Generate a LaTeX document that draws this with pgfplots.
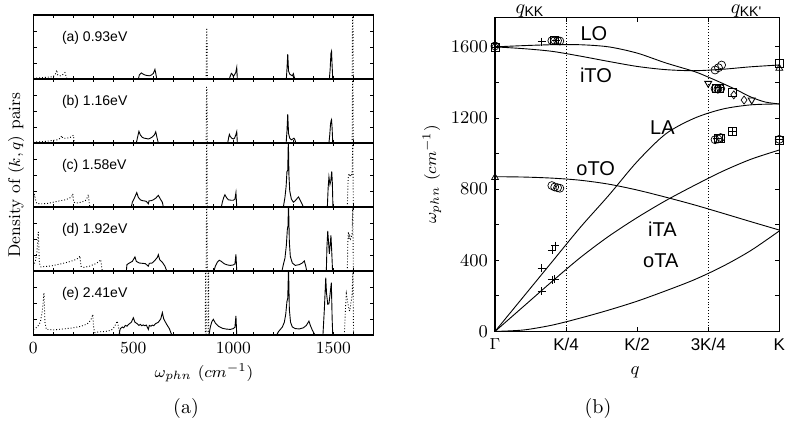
\documentclass[border=0pt]{standalone}
\usepackage{pgfplots}
\pgfplotsset{compat=1.18}
\usepackage{fontspec}
\newfontfamily\hv{Liberation Sans}

\pgfplotsset{
  dens/.style={scale only axis, width=170pt, height=32pt, anchor=south west,
    xmin=0, xmax=1700, ymin=0, ymax=4,
    xtick={0,500,1000,1500}, minor xtick={100,200,...,1700},
    ytick={1,2,3}, yticklabels={}, xticklabels={},
    tick align=inside, major tick length=1.6pt, minor tick length=1.6pt,
    axis line style={line width=0.6pt}, tick style={line width=0.4pt, black}},
  sol/.style={black, line width=0.45pt, mark=none},
  dot/.style={black, densely dotted, line width=0.45pt, mark=none},
}
\tikzset{lab/.style={anchor=west, font=\hv\fontsize{7}{8}\selectfont},
  crv/.style={font=\hv\fontsize{10}{12}\selectfont}}

\begin{document}
\begin{tikzpicture}
\path[use as bounding box] (0,0) rectangle (392.5pt,215pt);

% ---------- (a) 0.93 eV ----------
\begin{axis}[dens, at={(16.67pt,175.5pt)}]
\addplot[dot] coordinates {(0,0.05)(20,0.06)(40,0.08)(60,0.1)(80,0.12)(100,0.15)(110,0.3)(117,0.56)(122,0.25)(135,0.2)(145,0.25)(158,0.4)(163,0.2)(168,0)};
\addplot[sol] coordinates {(525,0)(530,0.25)(540,0.38)(550,0.3)(560,0.24)(570,0.22)(580,0.2)(590,0.25)(600,0.35)(608,0.6)(613,0.3)(617,0)};
\addplot[dot] coordinates {(864,0)(866,3.1)(868,3.1)(870,0)};
\addplot[sol] coordinates {(980,0)(985,0.2)(990,0.35)(995,0.3)(1000,0.15)(1005,0.25)(1012,0.4)(1017,0.72)(1020,0)};
\addplot[sol] coordinates {(1265,0)(1268,0.6)(1272,1.56)(1276,0.5)(1282,0.3)(1288,0.25)(1295,0.2)(1300,0.33)(1305,0.1)(1308,0)};
\addplot[sol] coordinates {(1480,0)(1484,0.6)(1488,1.6)(1491,1.73)(1494,0.8)(1497,0)};
\addplot[dot] coordinates {(1594,0)(1596,4.2)(1598,4.2)(1600,0)};
\node[lab] at (axis cs:108,2.6) {(a) 0.93eV};
\end{axis}

% ---------- (b) 1.16 eV ----------
\begin{axis}[dens, at={(16.67pt,143.5pt)}]
\addplot[dot] coordinates {(0,0.05)(30,0.08)(60,0.1)(90,0.15)(120,0.2)(135,0.3)(142,0.46)(148,0.3)(165,0.3)(185,0.35)(200,0.48)(204,0.1)(206,0)};
\addplot[sol] coordinates {(515,0)(520,0.3)(528,0.73)(535,0.5)(545,0.35)(555,0.3)(565,0.28)(575,0.25)(585,0.3)(595,0.38)(605,0.5)(612,0.7)(618,0.35)(625,0)};
\addplot[dot] coordinates {(864,0)(866,3.48)(868,3.48)(870,0)};
\addplot[sol] coordinates {(972,0)(976,0.3)(980,0.54)(985,0.4)(992,0.3)(1000,0.25)(1006,0.3)(1012,0.5)(1017,0.71)(1020,0)};
\addplot[sol] coordinates {(1264,0)(1268,0.7)(1272,1.81)(1276,0.6)(1282,0.3)(1290,0.2)(1297,0.25)(1303,0.3)(1308,0.2)(1312,0)};
\addplot[sol] coordinates {(1478,0)(1482,0.5)(1486,1.2)(1489,1.4)(1491,1.46)(1494,0.9)(1497,0)};
\addplot[dot] coordinates {(1594,0)(1596,4.2)(1598,4.2)(1600,0)};
\node[lab] at (axis cs:108,2.6) {(b) 1.16eV};
\end{axis}

% ---------- (c) 1.58 eV ----------
\begin{axis}[dens, at={(16.67pt,111.5pt)}]
\addplot[dot] coordinates {(0,0.3)(5,0.83)(10,0.5)(17,0.22)(40,0.2)(70,0.22)(100,0.3)(130,0.38)(160,0.45)(180,0.55)(192,0.65)(197,0.83)(202,0.3)(215,0.25)(240,0.3)(260,0.4)(270,0.6)(275,0.77)(280,0.2)(283,0)};
\addplot[sol] coordinates {(490,0)(495,0.3)(505,0.55)(517,0.9)(525,0.6)(535,0.45)(545,0.4)(555,0.38)(565,0.35)(575,0.2)(578,0.38)(590,0.4)(600,0.45)(612,0.55)(625,0.73)(635,0.5)(645,0.3)(650,0)};
\addplot[dot] coordinates {(864,0)(866,4.2)(868,4.2)(870,0)};
\addplot[sol] coordinates {(940,0)(945,0.3)(952,0.6)(958,0.77)(965,0.6)(975,0.45)(990,0.42)(1000,0.42)(1008,0.5)(1013,0.9)(1017,0)};
\addplot[sol] coordinates {(1250,0)(1258,0.6)(1264,1.3)(1268,2.2)(1272,2.3)(1275,4.2)(1278,2.0)(1282,1.0)(1290,0.5)(1300,0.3)(1310,0.4)(1320,0.55)(1326,0.63)(1335,0.4)(1345,0.15)(1350,0)};
\addplot[sol] coordinates {(1470,0)(1474,1.2)(1478,1.88)(1483,1.4)(1487,1.6)(1492,2.23)(1495,1.5)(1498,0)};
\addplot[dot] coordinates {(1570,0)(1574,1.8)(1578,2.1)(1582,1.9)(1586,2.0)(1590,1.95)(1594,2.1)(1597,4.2)(1600,0)};
\node[lab] at (axis cs:108,2.6) {(c) 1.58eV};
\end{axis}

% ---------- (d) 1.92 eV ----------
\begin{axis}[dens, at={(16.67pt,79.5pt)}]
\addplot[dot] coordinates {(0,0.3)(10,0.6)(18,1.2)(25,2.44)(30,0.5)(38,0.25)(60,0.28)(90,0.32)(120,0.4)(150,0.48)(180,0.58)(205,0.68)(225,0.8)(233,0.94)(238,0.3)(250,0.22)(280,0.3)(310,0.45)(330,0.6)(337,0.71)(342,0.2)(345,0)};
\addplot[sol] coordinates {(465,0)(468,0.4)(480,0.5)(495,0.6)(508,0.88)(515,0.6)(530,0.5)(545,0.48)(560,0.46)(575,0.3)(580,0.48)(595,0.5)(610,0.7)(620,0.85)(625,1.02)(632,0.7)(645,0.55)(658,0.3)(667,0)};
\addplot[dot] coordinates {(864,0)(866,4.2)(868,4.2)(870,0)};
\addplot[sol] coordinates {(903,0)(910,0.3)(920,0.55)(930,0.67)(940,0.6)(955,0.45)(970,0.38)(985,0.35)(1000,0.38)(1008,0.45)(1013,1.04)(1017,0)};
\addplot[sol] coordinates {(1243,0)(1250,0.4)(1258,0.8)(1265,1.6)(1270,2.6)(1273,2.8)(1276,4.2)(1280,1.8)(1285,0.9)(1295,0.5)(1310,0.35)(1330,0.4)(1345,0.5)(1355,0.63)(1362,0.3)(1367,0)};
\addplot[sol] coordinates {(1465,0)(1468,1.5)(1472,2.5)(1476,1.8)(1480,1.08)(1484,1.6)(1488,2.23)(1492,1.2)(1496,0)};
\addplot[dot] coordinates {(1570,0)(1572,1.6)(1575,2.44)(1578,2.0)(1582,2.2)(1586,2.0)(1590,2.1)(1594,2.3)(1597,4.2)(1600,0)};
\node[lab] at (axis cs:108,2.6) {(d) 1.92eV};
\end{axis}

% ---------- (e) 2.41 eV ----------
\begin{axis}[dens, at={(16.67pt,47.5pt)}, xticklabels={0,500,1000,1500},
  xticklabel style={font=\fontsize{8.5}{10}\selectfont}]
\addplot[dot] coordinates {(0,0.35)(20,0.5)(35,0.8)(45,1.5)(53,2.65)(58,0.8)(65,0.35)(100,0.32)(150,0.38)(200,0.45)(240,0.55)(270,0.7)(285,0.9)(293,1.1)(297,1.29)(302,0.4)(308,0.15)(330,0.2)(360,0.22)(390,0.3)(405,0.5)(415,0.75)(420,0.87)(425,0.5)(430,0.3)(433,0)};
\addplot[sol] coordinates {(428,0)(435,0.4)(445,0.5)(452,0.45)(460,0.6)(468,0.55)(475,0.65)(490,0.8)(500,1.08)(508,0.8)(520,0.7)(528,0.6)(535,0.66)(542,0.58)(550,0.63)(558,0.58)(565,0.62)(575,0.35)(580,0.6)(588,0.55)(595,0.62)(602,0.58)(610,0.7)(625,0.8)(637,1.0)(645,1.4)(652,1.0)(665,0.7)(680,0.4)(692,0)};
\addplot[dot] coordinates {(860,0)(861,4.2)(863,4.2)(864,0)};
\addplot[dot] coordinates {(873,0)(874,4.2)(876,4.2)(877,0)};
\addplot[sol] coordinates {(878,0)(885,0.5)(893,0.85)(900,0.98)(910,0.75)(925,0.55)(945,0.42)(965,0.37)(985,0.35)(1000,0.4)(1008,0.5)(1013,1.19)(1017,0)};
\addplot[sol] coordinates {(1217,0)(1225,0.2)(1235,0.35)(1245,0.5)(1255,0.8)(1262,1.3)(1268,2.1)(1272,2.3)(1276,4.2)(1280,1.6)(1286,0.8)(1295,0.5)(1310,0.4)(1330,0.38)(1350,0.45)(1365,0.6)(1378,0.87)(1385,0.6)(1395,0.3)(1408,0)};
\addplot[sol] coordinates {(1448,0)(1455,1.6)(1462,3.58)(1466,2.6)(1472,1.92)(1478,1.95)(1484,2.6)(1490,3.27)(1494,1.0)(1497,0)};
\addplot[dot] coordinates {(1555,0)(1560,1.5)(1565,2.58)(1570,2.2)(1578,1.6)(1582,1.5)(1588,2.0)(1594,2.5)(1598,4.2)(1601,0)};
\node[lab] at (axis cs:108,2.6) {(e) 2.41eV};
\end{axis}

\node[rotate=90, font=\fontsize{8.5}{10}\selectfont] at (8pt,127.5pt) {Density of $(k,q)$ pairs};
\node[font=\fontsize{8.5}{10}\selectfont] at (102pt,28.5pt) {$\omega_{phn}$ $(cm^{-1})$};
\node at (93pt,11pt) {(a)};

% ---------- dispersion ----------
\begin{axis}[scale only axis, width=142.15pt, height=156.85pt, anchor=south west, at={(247.5pt,49.3pt)},
  xmin=0, xmax=1, ymin=0, ymax=1764, clip=false,
  xtick={0,0.25,0.5,0.75,1},
  xticklabels={$\Gamma$,{\hv K/4},{\hv K/2},{\hv 3K/4},{\hv K}},
  xticklabel style={font=\fontsize{8.5}{10}\selectfont},
  ytick={0,400,800,1200,1600}, minor ytick={200,600,1000,1400},
  yticklabel style={font=\fontsize{9.5}{11}\selectfont, /pgf/number format/1000 sep={}},
  tick align=inside, major tick length=2pt, minor tick length=2pt,
  axis line style={line width=0.6pt}, tick style={line width=0.4pt, black},
  every axis plot/.append style={black, line width=0.45pt},
  mk/.style={only marks, mark size=2pt, mark options={solid, line width=0.35pt, fill=none}}]
\addplot[dot] coordinates {(0.25,0)(0.25,1764)};
\addplot[dot] coordinates {(0.75,0)(0.75,1764)};
% LO, iTO, LA, iTA, oTO, oTA
\addplot[smooth, mark=none] coordinates {(0,1600)(0.1,1607)(0.2,1612)(0.3,1612)(0.4,1600)(0.5,1565)(0.6,1510)(0.7,1462)(0.75,1430)(0.8,1395)(0.85,1358)(0.9,1318)(0.95,1290)(1,1279)};
\addplot[smooth, mark=none] coordinates {(0,1600)(0.1,1590)(0.2,1575)(0.3,1548)(0.4,1518)(0.5,1490)(0.6,1472)(0.7,1466)(0.8,1474)(0.9,1488)(1,1498)};
\addplot[smooth, mark=none] coordinates {(0,0)(0.1,195)(0.2,390)(0.3,585)(0.4,765)(0.5,955)(0.6,1110)(0.7,1198)(0.8,1250)(0.9,1274)(1,1279)};
\addplot[smooth, mark=none] coordinates {(0,0)(0.1,140)(0.2,280)(0.3,415)(0.4,535)(0.5,640)(0.6,735)(0.7,820)(0.8,900)(0.9,968)(1,1020)};
\addplot[smooth, mark=none] coordinates {(0,870)(0.1,868)(0.2,862)(0.3,850)(0.4,828)(0.5,795)(0.6,755)(0.7,712)(0.8,665)(0.9,617)(1,570)};
\addplot[smooth, mark=none] coordinates {(0,0)(0.1,8)(0.2,35)(0.3,75)(0.4,120)(0.5,170)(0.6,228)(0.7,290)(0.8,365)(0.9,455)(1,565)};
% measured points
\addplot[mk, mark=o] coordinates {(0,1605)(0.2,1635)(0.21,1636)(0.22,1635)(0.228,1633)(0.2,820)(0.21,812)(0.22,808)(0.228,805)(0.774,1470)(0.786,1483)(0.797,1498)(0.774,1365)(0.784,1362)(0.794,1365)(0.774,1078)(0.784,1082)(0.794,1090)(1,1080)};
\addplot[mk, mark=square] coordinates {(0,1600)(0.21,1635)(0.78,1368)(0.79,1365)(0.836,1345)(0.784,1085)(0.794,1088)(0.836,1125)(1,1508)(1,1075)};
\addplot[mk, mark=+] coordinates {(0.164,1629)(0.215,1635)(0.164,225)(0.164,355)(0.2,290)(0.21,295)(0.2,455)(0.211,482)(0.79,1370)(0.836,1125)(0.78,1085)(1,1080)};
\addplot[mk, mark=triangle] coordinates {(0,1608)(0,865)(1,1480)};
\addplot[mk, mark=triangle, mark options={rotate=180}] coordinates {(0.75,1395)(0.903,1301)};
\addplot[mk, mark=diamond] coordinates {(0.84,1330)(0.876,1301)};
\node[crv] at (axis cs:0.348,1677) {LO};
\node[crv] at (axis cs:0.355,1442) {iTO};
\node[crv] at (axis cs:0.589,1146) {LA};
\node[crv] at (axis cs:0.354,917) {oTO};
\node[crv] at (axis cs:0.589,574) {iTA};
\node[crv] at (axis cs:0.583,396) {oTA};
\node[anchor=base, inner sep=0pt] at (axis cs:0.123,1790) {$q_{\mbox{\hv\scriptsize KK}}$};
\node[anchor=base, inner sep=0pt] at (axis cs:0.885,1790) {$q_{\mbox{\hv\scriptsize KK'}}$};
\end{axis}

\node[rotate=90, font=\fontsize{8.5}{10}\selectfont] at (216pt,127.7pt) {$\omega_{phn}$ $(cm^{-1})$};
\node[font=\fontsize{9}{10}\selectfont] at (317.5pt,29pt) {$q$};
\node at (299pt,11pt) {(b)};
\end{tikzpicture}
\end{document}
